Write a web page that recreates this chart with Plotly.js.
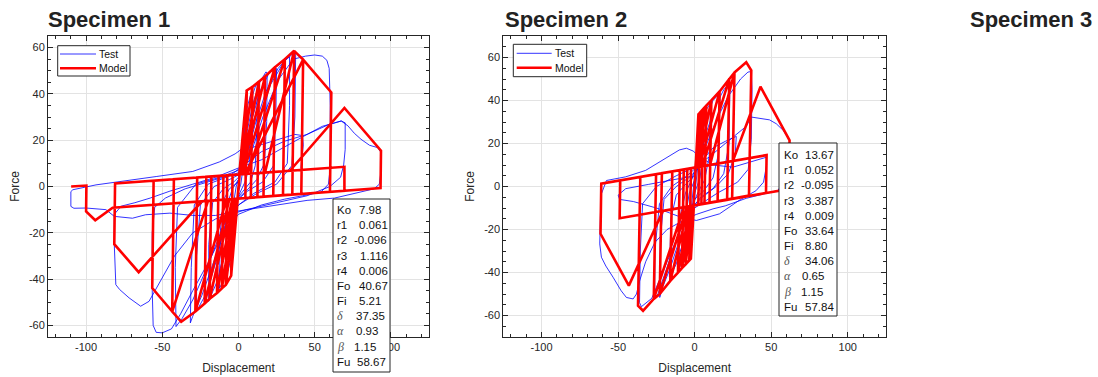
<!DOCTYPE html>
<html><head><meta charset="utf-8">
<script src="https://cdn.plot.ly/plotly-3.0.1.min.js"></script>
<style>html,body{margin:0;padding:0;background:#fff}#chart{width:1098px;height:377px}</style>
</head><body><div id="chart"></div>
<script>
// ---------------- DATA ----------------
const titles = ['Specimen 1', 'Specimen 2', 'Specimen 3'];
const seriesNames = ['Test', 'Model'];
const xTicks = [-100, -50, 0, 50, 100];
const yTicks = [-60, -40, -20, 0, 20, 40, 60];
const paramLabels = ['Ko', 'r1', 'r2', 'r3', 'r4', 'Fo', 'Fi', 'δ', 'α', 'β', 'Fu'];
const s1ParamValues = ['7.98', '0.061', '-0.096', '1.116', '0.006', '40.67', '5.21', '37.35', '0.93', '1.15', '58.67'];
const s2ParamValues = ['13.67', '0.052', '-0.095', '3.387', '0.009', '33.64', '8.80', '34.06', '0.65', '1.15', '57.84'];

// Specimen 1 - test (displacement, force)
const s1Test = [[0,0],[1,8],[2.5,19],[4,30],[4.5,33],[4,20],[3,8],[1.5,1],[0,-2],[-1.5,-10],[-3,-21],[-4,-29],[-4.5,-31],[-4,-18],[-3,-6],[-1.5,0],[0,3],
[2,15],[4,27],[6,35],[8,40],[8.6,41],[8.2,25],[7,10],[5,3],[2,-1],[0,-4],[-2,-12],[-4,-25],[-6,-34],[-8,-39],[-8.6,-40],[-8,-20],[-7,-7],[-4,-1],[0,3],
[3,17],[5,28],[8,37],[11,43],[12.3,44.5],[12,25],[11,9],[8,2],[3,-2],[-2,-6],[-5,-20],[-8,-33],[-11,-42],[-12.5,-44],[-12,-20],[-10,-6],[-6,-1],[0,2],
[3,12],[6,25],[10,37],[14,45],[18,49.5],[18.8,49],[18.5,28],[17,10],[12,3],[5,-2],[-2,-6],[-6,-16],[-10,-30],[-14,-41],[-18,-47],[-19.6,-49.6],[-19.5,-25],[-17,-7],[-10,-1],[-3,2],[0,4],
[4,12],[8,27],[14,41],[20,49],[24,51.6],[25,51],[24.5,30],[23,9],[16,2],[6,-2],[-3,-7],[-9,-17],[-15,-33],[-21,-46],[-26,-52],[-27.5,-53],[-27.5,-30],[-25,-8],[-16,0],[-6,3],[0,5],
[5,12],[11,27],[18,41],[26,51],[32,55.5],[33.5,56],[33.5,35],[32,10],[24,2],[10,-3],[0,-8],[-8,-16],[-16,-32],[-24,-47],[-30,-56],[-31.6,-58.9],[-31,-35],[-29,-8],[-20,1],[-8,4],[0,6],
[6,12],[13,28],[21,44],[30,54],[36,57.5],[37.5,57],[37,30],[35,9],[25,1],[12,-3],[0,-8],[-10,-17],[-20,-34],[-30,-49],[-37,-57],[-41,-60.5],[-41.5,-35],[-40,-9],[-28,1],[-12,4],[0,7],
[8,14],[16,30],[26,46],[36,55],[44,56.3],[50,56.8],[55,56.3],[58,54.5],[59.5,51],[60.2,35],[60.2,8],[59,1],[54,-2.5],[42,-4],[30,-5.5],[15,-8],[0,-12],[-10,-20],[-20,-33],[-30,-45],[-38,-55],[-44,-61.5],[-50,-63.2],[-54,-63],[-56,-60],[-56.6,-45],[-56.6,-20],[-55,-9],[-48,-5],[-35,-1],[-20,2],[-5,5],[5,10],
[15,15],[30,19.5],[45,22.5],[55,26],[62,27.2],[67.4,28.3],[70,27.5],[70,16],[69,9.3],[67,4],[60,0],[45,-4],[25,-7],[5,-10],[-15,-14],[-30,-20],[-42,-30],[-52,-42],[-58.7,-49.6],[-64.2,-51.7],[-71.8,-48.1],[-78,-44.5],[-80.5,-42.4],[-81.5,-25.1],[-81.5,-12],[-77,-8.5],[-68,-7],[-58,-5],[-45,-2],[-30,1],[-15,4],[0,8],[15,11.5],[30,17],[45,22.5],[58.7,26.6],[67.4,28.3],[71.8,26.2],[76,23],[80.4,20.4],[86,17.8],[91.3,16.8],[93.5,14.7],[93.2,5],[92.4,1],[89,-1],[75,-3],[63,-5],[45,-6],[30,-7.5],[19.6,-8.6],[5,-10],[-2.4,-10.8],[-15,-12.5],[-30,-12.5],[-45,-11.5],[-61,-12.2],[-69.6,-13.7],[-81.5,-12.9],[-87,-10],[-100,-9.3],[-108,-9.4],[-110,-8.6],[-110,-2.2],[-108.7,-1.4],[-93.5,0.7],[-78.3,2.2],[-61,3.6],[-54,4.3],[-30,6.5],[-12.6,10.6],[-2.2,14.1],[2.2,16.2],[8.7,16.8],[23.9,19.7],[36.9,22.5],[42,22],[42.5,18],[41,8]];

// Specimen 1 - model (displacement, force)
const s1Model = [[0,0],[2.5,20],[-2.5,-20],[3.5,28],[-3.5,-28],[4.5,36],[-4.5,-36],[5.1,40.7],[5.4,41.5],[4.5,-5.05],[-0.5,-5.2],[-4.5,-36],[-4.8,-38.5],[-3.9,5.05],[0.5,5.2],
[5.4,41.5],[9.1,43],[8.1,-4.85],[-0.8,-5.25],[-4.8,-38.5],[-8.3,-42.5],[-7.4,4.85],[1,5.25],
[9.1,43],[13.4,45.3],[12.4,-4.6],[-1.5,-5.3],[-8.3,-42.5],[-10.9,-44],[-9.9,4.7],[1.5,5.3],
[13.4,45.3],[17.4,47.5],[16.4,-4.4],[-2,-5.3],[-10.9,-44],[-14.1,-46],[-13.1,4.6],[2,5.3],
[17.4,47.5],[23.9,51.5],[22.8,-4.1],[-3,-5.35],[-14.1,-46],[-18.9,-48.5],[-17.8,4.35],[3,5.35],
[23.9,51.5],[30.4,55],[29.2,-3.8],[-4,-5.4],[-18.9,-48.5],[-22.2,-50.5],[-21.1,4.2],[6,5.5],
[30.4,55],[36.5,58.6],[35.3,-3.5],[-6,-5.5],[-22.2,-50.5],[-28.3,-54],[-27.1,3.9],[17.4,6],
[36.5,58.6],[42.4,54.8],[41.2,-3.2],[-8,-5.6],[-28.3,-54],[-37.6,-58.4],[-43.5,-54],[-42.4,3.2],[4.3,5.4],
[42.4,54.8],[60.9,40.6],[60,-2.3],[-20,-6.2],[-43.5,-54],[-56.6,-43.9],[-55.7,2.5],[33.7,6.8],
[69.5,33.9],[93.5,15.5],[93.2,-0.7],[-24,-6.4],[-65.5,-37],[-81.5,-24.9],[-81,1.3],[69.5,8.5],[69.5,-1.9],
[-82.6,-9.2],[-94,-14.6],[-100,-10.8],[-99.8,0.4],[-109.8,0]];

// Specimen 2 - test (displacement, force)
const s2Test = [[0,0],[1,10],[2,22],[3,30],[3.3,31],[2.5,12],[1,2],[0,-2],[-1,-10],[-2,-22],[-3,-30],[-3.3,-31],[-2.5,-12],[-1,-2],[0,2],
[1.5,12],[3,25],[5,33],[6,35],[5.5,15],[3.5,4],[0,-3],[-2,-12],[-4,-26],[-6,-34],[-6.5,-35],[-6,-14],[-3.5,-3],[0,3],
[2,14],[4,26],[7,35],[10,39],[10.5,39],[9.5,14],[6.5,3],[2,-3],[-2,-10],[-4,-20],[-7,-32],[-10,-38],[-10.5,-38],[-9.5,-14],[-6,-3],[-2,3],
[1,10],[4,22],[8,33],[12,40],[16,43],[16.5,42],[15.5,15],[12,4],[6,-2],[0,-6],[-4,-14],[-8,-27],[-12,-36],[-16,-42],[-16.5,-42],[-15.5,-15],[-12,-4],[-6,1],[0,5],
[4,14],[8,26],[14,38],[19,45],[22.5,48],[23,47],[22.5,20],[19,6],[12,-1],[4,-5],[-4,-12],[-10,-25],[-16,-38],[-21,-47],[-22.8,-51.6],[-22.5,-25],[-20,-6],[-12,0],[-4,4],[2,8],
[6,13],[12,18],[20,21],[27.2,23.3],[26.5,15],[22,6],[14,0],[5,-5],[-5,-12],[-12,-25],[-19,-40],[-24,-50],[-26.1,-52.3],[-26,-30],[-23,-8],[-15,0],[-5,5],[3,10],
[8,20],[15,32],[22,42],[30,50],[34.8,53.2],[37,53.5],[37.5,45],[37,22],[35,8],[28,2],[15,-3],[0,-10],[-8,-18],[-15,-30],[-22,-42],[-28,-52],[-34.8,-55.9],[-36,-54],[-35.5,-30],[-34,-8],[-25,0],[-12,5],[0,9],
[10,14],[20,20],[27,24],[33.7,28],[37,32.3],[42.4,31.8],[48.9,31],[53.3,29.2],[58,26],[62,21.4],[61,10],[59,3],[54.3,-1.9],[45,-3.5],[33.7,-5.5],[20,-9],[12,-10.4],[1,-13],[-8,-16],[-18,-20],[-26,-26],[-32,-35],[-36,-44],[-38,-50],[-40.2,-52.3],[-44.6,-51.6],[-48,-48.5],[-53.3,-42.2],[-58,-37],[-60.9,-32.9],[-62,-26.7],[-61.5,-12],[-60.9,-3.4],[-57.6,2.8],[-45,4.5],[-32,7.5],[-20.7,12.5],[-10,17],[-5.4,17.8],[-1,16.5],[3,14],[12,10],[25,9],[35,11],[46.8,13.6],[47,10],[45,2],[40,-2],[30,-6],[16.3,-12.7],[1.1,-15.8],[-10,-14],[-25,-10],[-40,-7],[-49,-6],[-50,-4],[-45,-1],[-30,1],[-15,3],[0,5]];

// Specimen 2 - model (displacement, force)
const s2Model = [[0,0],[1.5,20.5],[-1.5,-20.5],[2.2,30],[-2.2,-30],[2.46,33.6],[3.5,34.4],[2.4,-8.5],[-0.5,-8.85],[-2.46,-33.6],[-3.5,-34.4],[-2.4,8.5],[0.5,8.85],
[3.5,34.4],[5.5,36],[4.4,-8.25],[-1,-8.9],[-3.5,-34.4],[-5.9,-36.2],[-4.8,8.2],[1,8.9],
[5.5,36],[7.6,37.6],[6.4,-8],[-1.5,-9],[-5.9,-36.2],[-8.3,-38],[-7.1,7.9],[1.5,9],
[7.6,37.6],[10.9,40.1],[9.7,-7.6],[-2,-9.05],[-8.3,-38],[-10.9,-40.1],[-9.7,7.6],[2,9.05],
[10.9,40.1],[16.3,44.2],[15,-6.95],[-3,-9.2],[-10.9,-40.1],[-15.9,-43.9],[-14.6,7],[3,9.2],
[16.3,44.2],[22.6,50],[21.2,-6.2],[-4,-9.3],[-15.9,-43.9],[-22.8,-50],[-21.4,6.2],[5,9.4],
[22.6,50],[26,53],[24.5,-5.6],[-5,-9.4],[-22.8,-50],[-26.7,-52.3],[-25.2,5.7],[10,10],
[26,53],[33.7,57.8],[37,54],[35.5,-4.25],[-7,-9.7],[-26.7,-52.3],[-33.7,-57.8],[-37,-55.4],[-35.5,4.4],[25,11.9],
[43,46.4],[62,21.5],[61.4,-1.2],[-20.7,-11.35],[-43,-46.1],[-61.5,-22],[-61,1.3],[47,14.6],[46.6,-3.0],[-49,-14.8],[-48.6,2.8]];

// ---------------- FIGURE ----------------
const W = 1098, H = 377;
const px = v => v / W, py = v => 1 - v / H;
const xs = a => a.map(p => p[0]), ys = a => a.map(p => p[1]);
const BLUE = '#0000ff', RED = '#ff0000', AX = '#262626';
const FONT = 'Liberation Sans, Arial, Helvetica, sans-serif';
const TEST_W = 0.8, MODEL_W = 2.6;

const traces = [
  {x: xs(s1Test), y: ys(s1Test), xaxis: 'x', yaxis: 'y', name: seriesNames[0], mode: 'lines', line: {color: BLUE, width: TEST_W}},
  {x: xs(s1Model), y: ys(s1Model), xaxis: 'x', yaxis: 'y', name: seriesNames[1], mode: 'lines', line: {color: RED, width: MODEL_W}},
  {x: xs(s2Test), y: ys(s2Test), xaxis: 'x2', yaxis: 'y2', name: seriesNames[0], mode: 'lines', line: {color: BLUE, width: TEST_W}},
  {x: xs(s2Model), y: ys(s2Model), xaxis: 'x2', yaxis: 'y2', name: seriesNames[1], mode: 'lines', line: {color: RED, width: MODEL_W}}
];

function xAxis(dom, anchor) {
  return {domain: dom, anchor: anchor, range: [-125, 125], tickvals: xTicks, ticktext: xTicks.map(String),
    showline: true, mirror: 'ticks', linecolor: AX, linewidth: 1, ticks: 'inside', ticklen: 5, tickcolor: AX,
    showgrid: true, gridcolor: '#e3e3e3', zeroline: false,
    tickfont: {family: FONT, size: 11, color: AX},
    minor: {ticks: 'inside', ticklen: 3, tickcolor: AX, dtick: 10, tick0: 0, showgrid: false},
    title: {text: 'Displacement', font: {family: FONT, size: 12, color: AX}, standoff: 11}, automargin: false, fixedrange: true};
}
function yAxis(dom, anchor, rng) {
  return {domain: dom, anchor: anchor, range: rng, tickvals: yTicks, ticktext: yTicks.map(String),
    showline: true, mirror: 'ticks', linecolor: AX, linewidth: 1, ticks: 'inside', ticklen: 5, tickcolor: AX,
    showgrid: true, gridcolor: '#e3e3e3', zeroline: false,
    tickfont: {family: FONT, size: 11, color: AX},
    minor: {ticks: 'inside', ticklen: 3, tickcolor: AX, dtick: 5, tick0: 0, showgrid: false},
    title: {text: 'Force', font: {family: FONT, size: 12, color: AX}, standoff: 6}, automargin: false, fixedrange: true};
}

const yDom = [1 - 337 / H, 1 - 36 / H];
const annotations = [];
const shapes = [];
// panel titles
[[46, titles[0]], [503, titles[1]], [968, titles[2]]].forEach(([x, t]) => {
  annotations.push({xref: 'paper', yref: 'paper', x: px(x), y: py(19), xanchor: 'left', yanchor: 'middle',
    text: '<b>' + t + '</b>', showarrow: false, font: {family: FONT, size: 22, color: '#222'}});
});
// legends (drawn boxes, sample lines and labels)
function legendBox(left, top, right, bottom, lineX0, lineX1, textX, rowY) {
  shapes.push({type: 'rect', xref: 'paper', yref: 'paper', x0: px(left), x1: px(right), y0: py(bottom), y1: py(top),
    line: {color: AX, width: 1}, fillcolor: '#fff', layer: 'above'});
  [[BLUE, TEST_W], [RED, MODEL_W]].forEach(([c, w], i) => {
    shapes.push({type: 'line', xref: 'paper', yref: 'paper', x0: px(lineX0), x1: px(lineX1), y0: py(rowY[i]), y1: py(rowY[i]),
      line: {color: c, width: w}, layer: 'above'});
    annotations.push({xref: 'paper', yref: 'paper', x: px(textX), y: py(rowY[i]), xanchor: 'left', yanchor: 'middle',
      text: seriesNames[i], showarrow: false, font: {family: FONT, size: 10.5, color: '#111'}});
  });
}
legendBox(57.7, 45.7, 130, 76, 60, 96, 96.5, [54, 68.3]);
legendBox(513.3, 44.3, 586.7, 76.7, 516.7, 551.7, 552.5, [53.3, 67.7]);

// parameter boxes
function paramBox(left, top, right, bottom, labelX, valueX, firstY, values) {
  shapes.push({type: 'rect', xref: 'paper', yref: 'paper', x0: px(left), x1: px(right), y0: py(bottom), y1: py(top),
    line: {color: AX, width: 1}, fillcolor: '#fff', layer: 'above'});
  paramLabels.forEach((lab, i) => {
    const greek = i >= 7 && i <= 9;
    annotations.push({xref: 'paper', yref: 'paper', x: px(labelX), y: py(firstY + i * 15.17), xanchor: 'left', yanchor: 'middle',
      text: greek ? '<i>' + lab + '</i>' : lab, showarrow: false,
      font: {family: greek ? 'Liberation Serif, DejaVu Serif, serif' : FONT, size: greek ? 12 : 11.5, color: greek ? '#555' : '#111'}});
    annotations.push({xref: 'paper', yref: 'paper', x: px(valueX[i]), y: py(firstY + i * 15.17), xanchor: 'left', yanchor: 'middle',
      text: values[i], showarrow: false, font: {family: FONT, size: 11.5, color: '#111'}});
  });
}
paramBox(333, 199, 390, 372, 335, [357, 357, 352, 357.5, 357, 357, 357, 354, 354, 351.5, 355], 210, s1ParamValues);
paramBox(779, 143, 837, 316, 782, [803, 803, 799, 803, 803, 803, 803, 803, 800, 799, 803], 155, s2ParamValues);

const layout = {
  width: W, height: H, margin: {l: 0, r: 0, t: 0, b: 0}, paper_bgcolor: '#fff', plot_bgcolor: '#fff',
  xaxis: xAxis([px(48), px(429)], 'y'),
  yaxis: yAxis(yDom, 'x', [-65, 65]),
  xaxis2: xAxis([px(503.3), px(886)], 'y2'),
  yaxis2: yAxis(yDom, 'x2', [-70, 70]),
  annotations: annotations, shapes: shapes, showlegend: false
};

Plotly.newPlot('chart', traces, layout, {staticPlot: true, displayModeBar: false});
</script></body></html>
